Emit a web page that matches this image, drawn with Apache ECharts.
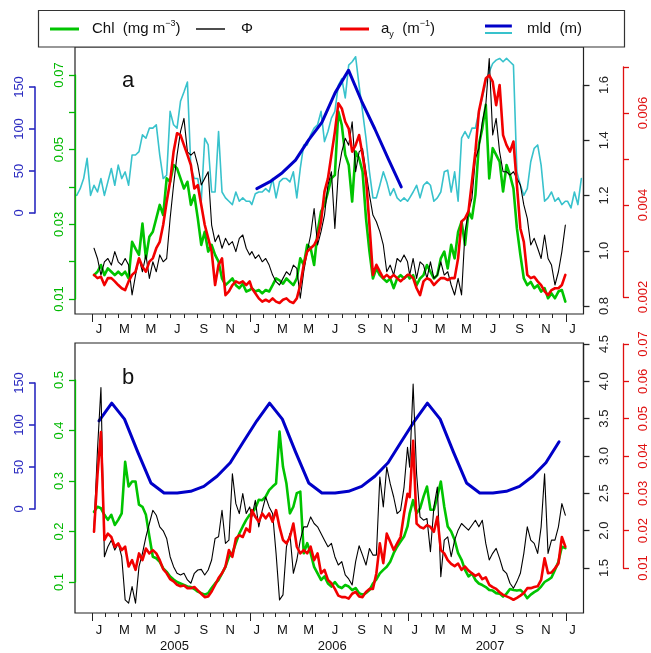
<!DOCTYPE html>
<html>
<head>
<meta charset="utf-8">
<script src="https://cdn.jsdelivr.net/npm/echarts@6/dist/echarts.min.js"></script>
<style>
  html, body { margin: 0; padding: 0; background: #fff; }
  #chart { width: 651px; height: 653px; }
</style>
</head>
<body>
<div id="chart"></div>
<script>
// ---------------------------------------------------------------------------
// Data: 8-day composites (46 per year) for 2005-2007, monthly mixed-layer depth
// ---------------------------------------------------------------------------
const years = [2005, 2006, 2007];

// Panel a — chlorophyll (mg m^-3)
const chlA2005 = [0.0164,0.0173,0.0191,0.0164,0.0182,0.0173,0.0164,0.0173,0.0164,0.0173,0.0155,0.0253,0.0235,0.0218,0.0302,0.0209,0.0267,0.0280,0.0316,0.0352,0.0325,0.0423,0.0414,0.0459,0.0450,0.0423,0.0396,0.0414,0.0352,0.0378,0.0316,0.0245,0.0280,0.0227,0.0245,0.0218,0.0200,0.0155,0.0137,0.0146,0.0155,0.0137,0.0129,0.0141,0.0120,0.0124];
const chlA2006 = [0.0129,0.0120,0.0124,0.0115,0.0124,0.0120,0.0137,0.0155,0.0150,0.0141,0.0155,0.0146,0.0137,0.0155,0.0209,0.0191,0.0245,0.0236,0.0191,0.0280,0.0334,0.0352,0.0387,0.0423,0.0432,0.0602,0.0566,0.0486,0.0459,0.0361,0.0495,0.0477,0.0441,0.0316,0.0227,0.0155,0.0182,0.0164,0.0155,0.0146,0.0155,0.0129,0.0155,0.0164,0.0155,0.0164];
const chlA2007 = [0.0155,0.0164,0.0137,0.0155,0.0164,0.0191,0.0173,0.0155,0.0164,0.0209,0.0227,0.0182,0.0245,0.0209,0.0280,0.0307,0.0245,0.0334,0.0316,0.0379,0.0513,0.0557,0.0620,0.0423,0.0504,0.0486,0.0468,0.0388,0.0459,0.0432,0.0396,0.0289,0.0218,0.0155,0.0137,0.0146,0.0129,0.0137,0.0120,0.0129,0.0102,0.0115,0.0102,0.0120,0.0124,0.0093];

// Panel a — quantum yield Phi
const phiA2005 = [1.009,0.972,0.912,0.960,0.972,0.948,0.997,0.960,0.948,0.972,0.948,0.840,0.912,0.972,0.924,0.985,0.900,0.960,0.924,0.985,0.960,0.972,1.117,1.238,1.346,1.431,1.479,1.358,1.346,1.358,1.310,1.238,1.262,1.286,1.093,1.033,1.057,1.009,1.045,1.021,1.033,0.997,1.045,1.057,1.009,0.985];
const phiA2006 = [0.997,0.972,0.985,0.960,0.972,0.948,0.912,0.888,0.876,0.900,0.924,0.912,0.948,0.936,0.828,0.924,0.997,1.057,1.153,1.021,1.069,1.129,1.238,1.286,1.081,1.286,1.358,1.407,1.382,1.467,1.286,1.358,1.370,1.286,1.202,1.129,1.105,1.069,1.021,0.924,0.948,0.912,0.972,0.960,0.985,0.960];
const phiA2007 = [0.912,0.972,0.900,0.960,0.948,0.900,0.960,0.900,0.912,0.960,0.912,0.924,0.876,0.840,0.900,0.840,1.069,1.141,1.190,1.334,1.370,1.467,1.527,1.696,1.419,1.479,1.358,1.286,1.286,1.274,1.286,1.262,1.238,1.166,1.117,1.021,1.045,1.009,0.972,1.057,0.972,0.948,0.876,0.924,0.997,1.093];

// Panel a — yellow-substance absorption a_y (m^-1)
const ayA2005 = [0.00248,0.00241,0.00244,0.00226,0.00241,0.00241,0.00234,0.00226,0.00219,0.00215,0.00234,0.00248,0.00255,0.00284,0.00266,0.00255,0.00277,0.00284,0.00306,0.00320,0.00357,0.00407,0.00451,0.00516,0.00556,0.00552,0.00530,0.00509,0.00487,0.00436,0.00443,0.00400,0.00357,0.00328,0.00299,0.00226,0.00270,0.00284,0.00204,0.00212,0.00226,0.00234,0.00230,0.00234,0.00226,0.00234];
const ayA2006 = [0.00219,0.00208,0.00197,0.00190,0.00194,0.00190,0.00197,0.00190,0.00187,0.00194,0.00197,0.00190,0.00187,0.00197,0.00226,0.00270,0.00299,0.00306,0.00313,0.00328,0.00364,0.00429,0.00458,0.00509,0.00559,0.00621,0.00610,0.00581,0.00566,0.00516,0.00530,0.00552,0.00509,0.00458,0.00357,0.00248,0.00270,0.00255,0.00241,0.00248,0.00241,0.00248,0.00241,0.00234,0.00241,0.00248];
const ayA2007 = [0.00248,0.00241,0.00219,0.00204,0.00234,0.00241,0.00237,0.00226,0.00234,0.00241,0.00241,0.00237,0.00241,0.00241,0.00284,0.00364,0.00371,0.00386,0.00451,0.00516,0.00603,0.00639,0.00675,0.00682,0.00668,0.00617,0.00661,0.00552,0.00530,0.00516,0.00538,0.00443,0.00349,0.00320,0.00248,0.00241,0.00244,0.00234,0.00226,0.00212,0.00204,0.00215,0.00219,0.00219,0.00226,0.00248];

// Panel a — 8-day mixed-layer depth (m), with a few composites either side of 2005-2007
const mld8Before = [21, 29, 41, 65, 21];
const mld8A2005 = [33,25,41,21,37,53,33,57,41,49,33,69,69,73,93,89,101,101,105,69,41,45,121,105,101,133,144,156,53,41,41,14,89,81,25,25,97,25,18,14,10,25,14,18,14,14];
const mld8A2006 = [10,23,25,25,29,25,41,18,37,41,41,37,49,18,53,81,81,93,101,105,121,85,97,113,121,152,160,137,176,180,186,152,121,89,49,18,18,33,49,37,21,29,18,14,18,14];
const mld8A2007 = [18,25,33,18,33,37,33,14,18,25,49,51,25,49,14,89,97,89,101,101,121,137,156,168,178,182,184,180,184,180,176,49,33,21,29,61,77,81,57,14,18,25,14,18,10,14];
const mld8After = [14, 6, 25, 10, 41];

// Panel a — monthly mixed-layer depth for 2006 (m)
const mldMonthlyA2006 = [29, 37, 48, 63, 87, 108, 143, 170, 133, 100, 65, 31];

// Panel b — chlorophyll (mg m^-3)
const chlB2005 = [0.239,0.249,0.246,0.233,0.223,0.233,0.213,0.223,0.236,0.338,0.289,0.299,0.299,0.253,0.249,0.233,0.190,0.150,0.147,0.140,0.127,0.120,0.111,0.105,0.100,0.097,0.094,0.091,0.090,0.086,0.081,0.078,0.075,0.078,0.088,0.097,0.104,0.117,0.130,0.150,0.157,0.177,0.196,0.210,0.223,0.233];
const chlB2006 = [0.236,0.246,0.263,0.262,0.269,0.282,0.289,0.295,0.398,0.328,0.295,0.236,0.249,0.276,0.279,0.157,0.177,0.157,0.130,0.117,0.104,0.111,0.097,0.091,0.100,0.091,0.088,0.094,0.091,0.084,0.088,0.078,0.075,0.078,0.084,0.097,0.105,0.117,0.124,0.130,0.140,0.157,0.170,0.180,0.190,0.210];
const chlB2007 = [0.236,0.262,0.236,0.246,0.269,0.289,0.243,0.243,0.269,0.299,0.249,0.210,0.200,0.183,0.157,0.144,0.124,0.111,0.117,0.104,0.097,0.094,0.090,0.084,0.083,0.078,0.077,0.071,0.077,0.086,0.084,0.083,0.084,0.078,0.068,0.075,0.080,0.084,0.091,0.100,0.104,0.109,0.124,0.140,0.170,0.167];

// Panel b — Phi
const phiB2005 = [2.051,3.080,3.918,1.651,1.784,1.873,1.740,1.829,1.651,1.073,1.029,1.251,1.029,1.518,1.696,1.918,2.096,2.273,2.207,2.051,1.998,1.896,1.651,1.518,1.429,1.407,1.429,1.340,1.296,1.429,1.473,1.482,1.407,1.473,1.607,1.896,1.918,2.273,1.829,1.873,2.762,2.362,2.229,2.496,2.229,2.318];
const phiB2006 = [2.184,2.407,2.051,2.273,2.451,2.318,2.229,1.696,1.073,1.140,1.784,1.962,1.429,1.607,1.873,2.051,2.051,2.184,2.096,2.051,1.962,1.873,1.784,1.829,1.651,1.540,1.585,1.407,1.354,1.273,1.585,1.798,1.673,1.540,1.762,1.673,1.673,2.718,2.318,2.851,2.629,2.451,2.229,2.273,2.584,3.118];
const phiB2007 = [2.851,3.962,2.762,2.184,2.140,2.162,1.718,2.318,2.584,1.384,1.873,1.918,1.651,1.873,2.007,2.096,2.051,2.007,2.073,2.140,2.051,2.140,1.829,1.607,1.696,1.762,1.629,1.473,1.429,1.296,1.229,1.318,1.429,1.696,2.051,1.873,1.829,1.696,2.051,2.762,1.696,1.873,1.873,2.051,2.362,2.207];

// Panel b — a_y (m^-1)
const ayB2005 = [0.0197,0.0350,0.0464,0.0175,0.0192,0.0183,0.0157,0.0166,0.0148,0.0157,0.0104,0.0121,0.0095,0.0139,0.0121,0.0152,0.0139,0.0148,0.0139,0.0121,0.0097,0.0086,0.0070,0.0064,0.0055,0.0051,0.0053,0.0046,0.0046,0.0049,0.0040,0.0031,0.0022,0.0024,0.0037,0.0055,0.0073,0.0086,0.0104,0.0148,0.0130,0.0179,0.0188,0.0183,0.0206,0.0197];
const ayB2006 = [0.0255,0.0237,0.0224,0.0246,0.0233,0.0246,0.0224,0.0255,0.0210,0.0175,0.0166,0.0183,0.0219,0.0157,0.0139,0.0148,0.0139,0.0157,0.0121,0.0139,0.0086,0.0095,0.0068,0.0059,0.0044,0.0026,0.0022,0.0022,0.0018,0.0031,0.0036,0.0024,0.0022,0.0036,0.0044,0.0044,0.0086,0.0166,0.0113,0.0192,0.0170,0.0148,0.0166,0.0183,0.0246,0.0299];
const ayB2007 = [0.0290,0.0441,0.0219,0.0210,0.0206,0.0215,0.0210,0.0197,0.0237,0.0148,0.0139,0.0121,0.0111,0.0105,0.0112,0.0095,0.0104,0.0093,0.0086,0.0079,0.0084,0.0070,0.0075,0.0055,0.0049,0.0044,0.0035,0.0028,0.0024,0.0020,0.0015,0.0020,0.0026,0.0033,0.0046,0.0046,0.0049,0.0051,0.0068,0.0126,0.0086,0.0088,0.0099,0.0112,0.0183,0.0157];

// Panel b — monthly climatological mixed-layer depth (m), Jan 2005 .. Dec 2007
const mldMonthlyB = [105,126,107,68,31,19,19,21,27,39,55,80,
                     105,126,107,68,31,19,19,21,27,39,55,80,
                     105,126,107,68,31,19,19,21,27,39,55,80];

// Axis ticks and labels
const monthLetters = ['J', 'M', 'M', 'J', 'S', 'N'];
const yearLabels = ['2005', '2006', '2007'];
const mldTicks = [0, 50, 100, 150];
const chlTicksA = [0.01, 0.02, 0.03, 0.04, 0.05, 0.06, 0.07];
const chlLabelsA = [0.01, 0.03, 0.05, 0.07];
const phiTicksA = [0.8, 1.0, 1.2, 1.4, 1.6];
const ayTicksA = [0.002, 0.003, 0.004, 0.005, 0.006, 0.007];
const ayLabelsA = [0.002, 0.004, 0.006];
const chlTicksB = [0.1, 0.2, 0.3, 0.4, 0.5];
const phiTicksB = [1.5, 2.0, 2.5, 3.0, 3.5, 4.0, 4.5];
const ayTicksB = [0.01, 0.02, 0.03, 0.04, 0.05, 0.06, 0.07];

// ---------------------------------------------------------------------------
// Time helpers (x axis in days since 1 Jan 2005)
// ---------------------------------------------------------------------------
const MS_DAY = 86400000;
const T0 = Date.UTC(2005, 0, 1);
const dayOf = (y, m, d) => (Date.UTC(y, m, d) - T0) / MS_DAY;
const X_MIN = dayOf(2004, 10, 22);
const X_MAX = dayOf(2008, 1, 11);

const compositeDays = (year, from, to) => {
  const out = [];
  for (let k = from; k < to; k++) out.push(dayOf(year, 0, 1) + 8 * k + 4);
  return out;
};
const midMonth = (y, m) => (dayOf(y, m, 1) + dayOf(y, m + 1, 1)) / 2;

const daysYear = years.map(y => compositeDays(y, 0, 46)).flat();
const pairs = (xs, vs) => xs.map((x, i) => [x, vs[i]]);

const chlA = pairs(daysYear, [...chlA2005, ...chlA2006, ...chlA2007]);
const phiA = pairs(daysYear, [...phiA2005, ...phiA2006, ...phiA2007]);
const ayA = pairs(daysYear, [...ayA2005, ...ayA2006, ...ayA2007]);
const mld8A = pairs(
  [...compositeDays(2005, -5, 0), ...daysYear, ...compositeDays(2008, 0, 5)],
  [...mld8Before, ...mld8A2005, ...mld8A2006, ...mld8A2007, ...mld8After]);
const mldA = pairs(mldMonthlyA2006.map((_, m) => midMonth(2006, m)), mldMonthlyA2006);

const chlB = pairs(daysYear, [...chlB2005, ...chlB2006, ...chlB2007]);
const phiB = pairs(daysYear, [...phiB2005, ...phiB2006, ...phiB2007]);
const ayB = pairs(daysYear, [...ayB2005, ...ayB2006, ...ayB2007]);
const mldB = pairs(mldMonthlyB.map((_, i) => midMonth(2005 + Math.floor(i / 12), i % 12)), mldMonthlyB);

// Month ticks (1st of each month), year ticks and label positions
const monthTicks = [];
for (const y of years) for (let m = 0; m < 12; m++) monthTicks.push(dayOf(y, m, 1));
monthTicks.push(dayOf(2008, 0, 1));
const yearTicks = [2005, 2006, 2007, 2008].map(y => dayOf(y, 0, 1));
const monthLabelDays = [], monthLabelText = [];
for (const y of years) for (let m = 0; m < 12; m += 2) {
  monthLabelDays.push(midMonth(y, m)); monthLabelText.push(monthLetters[m / 2]);
}
monthLabelDays.push(midMonth(2008, 0)); monthLabelText.push('J');
const yearLabelDays = years.map(y => dayOf(y, 0, 1) + 190);

// ---------------------------------------------------------------------------
// Layout
// ---------------------------------------------------------------------------
const FONT = "'Liberation Sans', Arial, Helvetica, sans-serif";
const C = {
  chl: '#00c400', phi: '#000000', ay: '#f20000',
  mld: '#0000c8', mld8: '#38c2cc',
  chlText: '#00b800', mldText: '#2a2ac0', ayText: '#e01010'
};
const BOX_LEFT = 75, BOX_RIGHT = 583.5;
const PANEL_A = { top: 47, bottom: 314 };
const PANEL_B = { top: 343, bottom: 613 };

// each visible y axis: tick values, pixel rows of first/last tick, x position
const axesA = {
  mld: { ticks: mldTicks, labels: mldTicks, dec: 0, y: [213, 87], x: 35, side: 'left', color: C.mldText, width: 1.6 },
  chl: { ticks: chlTicksA, labels: chlLabelsA, dec: 2, y: [299, 75], x: BOX_LEFT, side: 'left', color: C.chlText, width: 1.3 },
  phi: { ticks: phiTicksA, labels: phiTicksA, dec: 1, y: [306, 85], x: BOX_RIGHT, side: 'right', color: '#222', width: 1.3 },
  ay: { ticks: ayTicksA, labels: ayLabelsA, dec: 3, y: [297, 67], x: 623, side: 'right', color: C.ayText, width: 1.3 }
};
const axesB = {
  mld: { ticks: mldTicks, labels: mldTicks, dec: 0, y: [509, 383], x: 35, side: 'left', color: C.mldText, width: 1.6 },
  chl: { ticks: chlTicksB, labels: chlTicksB, dec: 1, y: [582, 380], x: BOX_LEFT, side: 'left', color: C.chlText, width: 1.3 },
  phi: { ticks: phiTicksB, labels: phiTicksB, dec: 1, y: [568, 344], x: BOX_RIGHT, side: 'right', color: '#222', width: 1.3 },
  ay: { ticks: ayTicksB, labels: ayTicksB, dec: 2, y: [568, 344], x: 623, side: 'right', color: C.ayText, width: 1.3 }
};

// value range of a hidden axis spanning the whole panel, from the tick rows
function panelRange(ax, panel) {
  const v0 = ax.ticks[0], v1 = ax.ticks[ax.ticks.length - 1];
  const k = (v1 - v0) / (ax.y[0] - ax.y[1]);
  return { min: v0 - (panel.bottom - ax.y[0]) * k, max: v1 + (ax.y[1] - panel.top) * k };
}

const grids = [
  { left: BOX_LEFT, top: PANEL_A.top, width: BOX_RIGHT - BOX_LEFT, height: PANEL_A.bottom - PANEL_A.top,
    show: true, borderColor: '#222', borderWidth: 1.2, backgroundColor: 'transparent' },
  { left: BOX_LEFT, top: PANEL_B.top, width: BOX_RIGHT - BOX_LEFT, height: PANEL_B.bottom - PANEL_B.top,
    show: true, borderColor: '#222', borderWidth: 1.2, backgroundColor: 'transparent' }
];

const monthAxis = (gridIndex, margin) => ({
  type: 'value', gridIndex, min: X_MIN, max: X_MAX, position: 'bottom',
  axisLine: { show: false, onZero: false },
  axisTick: { show: true, customValues: monthTicks, length: 4, lineStyle: { color: '#222', width: 1 } },
  axisLabel: {
    show: true, customValues: monthLabelDays, margin, fontSize: 13, color: '#111', fontFamily: FONT,
    formatter: v => monthLabelText[monthLabelDays.indexOf(v)] || ''
  },
  splitLine: { show: false }
});
const yearTickAxis = (gridIndex) => ({
  type: 'value', gridIndex, min: X_MIN, max: X_MAX, position: 'bottom',
  axisLine: { show: false, onZero: false },
  axisTick: { show: true, customValues: yearTicks, length: 8, lineStyle: { color: '#222', width: 1 } },
  axisLabel: { show: false }, splitLine: { show: false }
});

const xAxes = [
  monthAxis(0, 9), yearTickAxis(0), monthAxis(1, 11), yearTickAxis(1),
  {
    type: 'value', gridIndex: 1, min: X_MIN, max: X_MAX, position: 'bottom',
    axisLine: { show: false, onZero: false }, axisTick: { show: false },
    axisLabel: {
      show: true, customValues: yearLabelDays, margin: 27, fontSize: 13, color: '#111', fontFamily: FONT,
      formatter: v => yearLabels[yearLabelDays.indexOf(v)] || ''
    },
    splitLine: { show: false }
  }
];

const hiddenY = (gridIndex, ax, panel) => Object.assign(
  { type: 'value', gridIndex, show: false, axisLine: { onZero: false }, splitLine: { show: false } },
  panelRange(ax, panel));

const yAxes = [
  hiddenY(0, axesA.mld, PANEL_A), hiddenY(0, axesA.chl, PANEL_A), hiddenY(0, axesA.phi, PANEL_A), hiddenY(0, axesA.ay, PANEL_A),
  hiddenY(1, axesB.mld, PANEL_B), hiddenY(1, axesB.chl, PANEL_B), hiddenY(1, axesB.phi, PANEL_B), hiddenY(1, axesB.ay, PANEL_B)
];

// visible axes: each gets a slim grid covering exactly its tick span
[axesA, axesB].forEach(set => {
  Object.values(set).forEach(ax => {
    const gi = grids.length;
    grids.push({ left: ax.side === 'left' ? ax.x : ax.x - 1, width: 1, top: ax.y[1], height: ax.y[0] - ax.y[1], show: false });
    xAxes.push({ type: 'value', gridIndex: gi, show: false, min: 0, max: 1, axisLine: { onZero: false } });
    yAxes.push({
      type: 'value', gridIndex: gi, position: ax.side, z: 5,
      min: ax.ticks[0], max: ax.ticks[ax.ticks.length - 1],
      axisLine: { show: true, onZero: false, lineStyle: { color: ax.color, width: ax.width } },
      axisTick: { show: true, customValues: ax.ticks, length: 6, lineStyle: { color: ax.color, width: ax.width } },
      axisLabel: {
        show: true, customValues: ax.labels, rotate: 90, color: ax.color, fontSize: 13, fontFamily: FONT,
        margin: ax.side === 'left' ? 9 : 14,
        formatter: v => Number(v).toFixed(ax.dec)
      },
      splitLine: { show: false }
    });
  });
});

const lineSeries = (name, data, xi, yi, color, width) => ({
  name, type: 'line', data, xAxisIndex: xi, yAxisIndex: yi,
  symbol: 'none', showSymbol: false, smooth: false, silent: true,
  lineStyle: { color, width, join: 'round', cap: 'round' },
  itemStyle: { color }
});

const series = [
  lineSeries('mld8', mld8A, 0, 0, C.mld8, 1.6),
  lineSeries('mld', mldA, 0, 0, C.mld, 3),
  lineSeries('Chl', chlA, 0, 1, C.chl, 2.6),
  lineSeries('Φ', phiA, 0, 2, C.phi, 1.1),
  lineSeries('a_y', ayA, 0, 3, C.ay, 2.6),
  lineSeries('mld', mldB, 2, 4, C.mld, 3),
  lineSeries('Chl', chlB, 2, 5, C.chl, 2.6),
  lineSeries('Φ', phiB, 2, 6, C.phi, 1.1),
  lineSeries('a_y', ayB, 2, 7, C.ay, 2.6)
];

const legendText = (pad) => ({
  fontSize: 15, lineHeight: 20, color: '#111', fontFamily: FONT, padding: [0, 0, 0, pad],
  rich: {
    sup: { fontSize: 9, lineHeight: 9, verticalAlign: 'top', fontFamily: FONT, color: '#111' },
    sub: { fontSize: 9, lineHeight: 9, verticalAlign: 'bottom', fontFamily: FONT, color: '#111' }
  }
});
const legendBase = { orient: 'horizontal', padding: 0, selectedMode: false, z: 6 };

const legends = [
  Object.assign({}, legendBase, { data: ['Chl'], left: 50, top: 19, icon: 'rect', itemWidth: 29, itemHeight: 3,
    formatter: () => 'Chl  (mg m{sup|−3})', textStyle: legendText(8) }),
  Object.assign({}, legendBase, { data: ['Φ'], left: 196, top: 19, icon: 'rect', itemWidth: 29, itemHeight: 1.4,
    formatter: () => 'Φ', textStyle: legendText(11) }),
  Object.assign({}, legendBase, { data: ['a_y'], left: 340, top: 19, icon: 'rect', itemWidth: 29, itemHeight: 3,
    formatter: () => 'a{sub|y}  (m{sup|−1})', textStyle: legendText(7) }),
  Object.assign({}, legendBase, { data: ['mld'], left: 485, top: 19, icon: 'path://M0 0H27V3H0Z M0 9H0.05V9.05H0Z',
    itemWidth: 27, itemHeight: 9, formatter: () => 'mld  (m)', textStyle: legendText(10) }),
  Object.assign({}, legendBase, { data: ['mld8'], left: 485, top: 32, icon: 'rect', itemWidth: 27, itemHeight: 2,
    formatter: () => '', textStyle: { fontSize: 1, lineHeight: 1 } })
];

const option = {
  animation: false,
  backgroundColor: '#ffffff',
  textStyle: { fontFamily: FONT },
  graphic: [{
    type: 'rect', z: 1,
    shape: { x: 38.5, y: 10.5, width: 586, height: 36.5 },
    style: { fill: '#ffffff', stroke: '#333', lineWidth: 1.2 }
  }],
  title: [
    { text: 'a', left: 117, top: 65, textStyle: { fontSize: 22, fontWeight: 'normal', color: '#111', fontFamily: FONT } },
    { text: 'b', left: 117, top: 362, textStyle: { fontSize: 22, fontWeight: 'normal', color: '#111', fontFamily: FONT } }
  ],
  legend: legends,
  grid: grids,
  xAxis: xAxes,
  yAxis: yAxes,
  series
};

const chart = echarts.init(document.getElementById('chart'), null, { renderer: 'canvas' });
chart.setOption(option);
</script>
</body>
</html>
